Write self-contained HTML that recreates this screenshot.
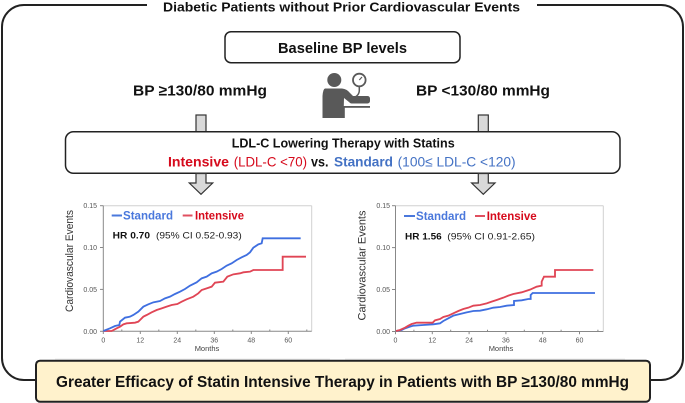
<!DOCTYPE html>
<html><head><meta charset="utf-8"><style>
html,body{margin:0;padding:0;background:#fff;}
svg{display:block;}
text{font-family:"Liberation Sans",Arial,sans-serif;}
</style></head><body>
<svg width="685" height="403" viewBox="0 0 685 403" xmlns="http://www.w3.org/2000/svg">
<rect width="685" height="403" fill="#fff"/>
<!-- outer border -->
<path d="M147 5 H24 A22 22 0 0 0 2 27 V358 A22 22 0 0 0 24 380 H36" fill="none" stroke="#222" stroke-width="2"/>
<path d="M537 5 H661 A22 22 0 0 1 683 27 V358 A22 22 0 0 1 661 380 H650" fill="none" stroke="#222" stroke-width="2"/>
<text x="163" y="11.5" font-size="13" font-weight="bold" fill="#111" textLength="357" lengthAdjust="spacingAndGlyphs">Diabetic Patients without Prior Cardiovascular Events</text>

<!-- baseline box -->
<rect x="225" y="31.7" width="235" height="31" rx="6" fill="#fff" stroke="#222" stroke-width="1.5"/>
<text x="278" y="53" font-size="15" font-weight="bold" fill="#111" textLength="129" lengthAdjust="spacingAndGlyphs">Baseline BP levels</text>

<text x="133" y="95.5" font-size="15" font-weight="bold" fill="#111" textLength="134" lengthAdjust="spacingAndGlyphs">BP ≥130/80 mmHg</text>
<text x="416" y="95.5" font-size="15" font-weight="bold" fill="#111" textLength="134" lengthAdjust="spacingAndGlyphs">BP &lt;130/80 mmHg</text>

<!-- icon -->
<g fill="#595959">
<circle cx="334.3" cy="80" r="7"/>
<path d="M325 88.5 L342 88.5 Q347 89 350 93 L354 97 L349 102 L344 98 L343.5 118 L322.5 118 L322.5 96 Q323 89 325 88.5 Z"/>
<rect x="349" y="96" width="21" height="7.5" rx="2.5"/>
<rect x="343" y="106" width="27" height="1.8"/>
<rect x="343" y="106" width="1.8" height="12"/>
</g>
<circle cx="359.3" cy="80" r="6.3" fill="#fff" stroke="#595959" stroke-width="1.8"/>
<line x1="359.3" y1="80" x2="362" y2="77" stroke="#595959" stroke-width="1.2"/>
<path d="M359.3 86.3 V91 Q359 95 355 97" fill="none" stroke="#595959" stroke-width="1.5"/>

<!-- small arrows -->
<rect x="196" y="115" width="10" height="20" fill="#d9d9d9" stroke="#333" stroke-width="1.2"/>
<rect x="478.3" y="115" width="10" height="20" fill="#d9d9d9" stroke="#333" stroke-width="1.2"/>

<!-- LDL box -->
<rect x="65.5" y="131.7" width="554.5" height="41.6" rx="8" fill="#fff" stroke="#222" stroke-width="1.5"/>
<text x="231.7" y="147.5" font-size="13" font-weight="bold" fill="#111" textLength="223" lengthAdjust="spacingAndGlyphs">LDL-C Lowering Therapy with Statins</text>
<g font-size="14">
<text x="168" y="166.5" font-weight="bold" fill="#d60a1c" textLength="61" lengthAdjust="spacingAndGlyphs">Intensive</text>
<text x="233.7" y="166.5" fill="#d60a1c" textLength="73.3" lengthAdjust="spacingAndGlyphs">(LDL-C &lt;70)</text>
<text x="311" y="166.5" font-weight="bold" fill="#111" textLength="17.5" lengthAdjust="spacingAndGlyphs">vs.</text>
<text x="334" y="166.5" font-weight="bold" fill="#4472c4" textLength="59" lengthAdjust="spacingAndGlyphs">Standard</text>
<text x="397.6" y="166.5" fill="#4472c4" textLength="118" lengthAdjust="spacingAndGlyphs">(100≤ LDL-C &lt;120)</text>
</g>

<!-- big arrows -->
<polygon points="196,173.5 206,173.5 206,183 212.7,183 201,194.3 189.3,183 196,183" fill="#d9d9d9" stroke="#333" stroke-width="1.2"/>
<polygon points="478.3,173.5 488.3,173.5 488.3,183 495,183 483.3,194.3 471.6,183 478.3,183" fill="#d9d9d9" stroke="#333" stroke-width="1.2"/>

<!-- faint chart image bottoms -->
<line x1="55" y1="359" x2="330" y2="359" stroke="#ececec" stroke-width="1"/>
<line x1="345" y1="359" x2="625" y2="359" stroke="#ececec" stroke-width="1"/>

<!-- LEFT CHART -->
<g>
<line x1="103.3" y1="205.7" x2="311.7" y2="205.7" stroke="#d0d0d0" stroke-width="1"/>
<line x1="311.7" y1="205.7" x2="311.7" y2="331.3" stroke="#d0d0d0" stroke-width="1"/>
<line x1="103.3" y1="205.7" x2="103.3" y2="331.3" stroke="#888" stroke-width="1"/>
<line x1="103.3" y1="331.3" x2="311.7" y2="331.3" stroke="#888" stroke-width="1"/>
<g stroke="#888" stroke-width="1">
<line x1="100" y1="205.7" x2="103.3" y2="205.7"/><line x1="100" y1="247.5" x2="103.3" y2="247.5"/>
<line x1="100" y1="289.4" x2="103.3" y2="289.4"/><line x1="100" y1="331.3" x2="103.3" y2="331.3"/>
<line x1="103.3" y1="331.3" x2="103.3" y2="334"/><line x1="140.3" y1="331.3" x2="140.3" y2="334"/>
<line x1="177.3" y1="331.3" x2="177.3" y2="334"/><line x1="214.3" y1="331.3" x2="214.3" y2="334"/>
<line x1="251.3" y1="331.3" x2="251.3" y2="334"/><line x1="288.3" y1="331.3" x2="288.3" y2="334"/>
<line x1="121.8" y1="331.3" x2="121.8" y2="329.5"/><line x1="158.8" y1="331.3" x2="158.8" y2="329.5"/>
<line x1="195.8" y1="331.3" x2="195.8" y2="329.5"/><line x1="232.8" y1="331.3" x2="232.8" y2="329.5"/>
<line x1="269.8" y1="331.3" x2="269.8" y2="329.5"/><line x1="306.8" y1="331.3" x2="306.8" y2="329.5"/>
</g>
<g font-size="7" fill="#555" text-anchor="end">
<text x="97" y="208">0.15</text><text x="97" y="250">0.10</text><text x="97" y="292">0.05</text><text x="97" y="334">0.00</text>
</g>
<g font-size="7" fill="#555" text-anchor="middle">
<text x="103.3" y="342.5">0</text><text x="140.3" y="342.5">12</text><text x="177.3" y="342.5">24</text>
<text x="214.3" y="342.5">36</text><text x="251.3" y="342.5">48</text><text x="288.3" y="342.5">60</text>
</g>
<text x="207" y="351" font-size="7.5" fill="#444" text-anchor="middle">Months</text>
<text transform="translate(73,261) rotate(-90)" font-size="11" fill="#333" text-anchor="middle" textLength="102" lengthAdjust="spacingAndGlyphs">Cardiovascular Events</text>
<line x1="111.7" y1="215.5" x2="122" y2="215.5" stroke="#4a78dc" stroke-width="2"/>
<text x="123" y="219.5" font-size="12" font-weight="bold" fill="#4a78dc" textLength="50" lengthAdjust="spacingAndGlyphs">Standard</text>
<line x1="182.7" y1="215.5" x2="192.5" y2="215.5" stroke="#e05060" stroke-width="2"/>
<text x="195" y="219.5" font-size="12" font-weight="bold" fill="#d60a1c" textLength="49" lengthAdjust="spacingAndGlyphs">Intensive</text>
<text x="112.7" y="238.5" font-size="9.5" font-weight="bold" fill="#111" textLength="37.3" lengthAdjust="spacingAndGlyphs">HR 0.70</text>
<text x="156" y="238.5" font-size="9.5" fill="#222" textLength="85.7" lengthAdjust="spacingAndGlyphs">(95% CI 0.52-0.93)</text>
<g transform="translate(90,195) scale(0.33333)" fill="none" stroke-width="5.5" stroke-linejoin="miter">
<path stroke="#e04555" d="M40 408 L65 408 L80 400 L90 395 L100 388 L110 385 L135 383 L145 380 L150 375 L160 365 L170 360 L185 352 L200 345 L215 340 L230 335 L245 330 L262 327 L275 320 L290 313 L310 305 L325 295 L335 285 L350 280 L365 275 L375 263 L400 260 L412 245 L430 238 L450 235 L460 232 L480 230 L490 225 H578 V185 H648"/>
<path stroke="#3f6fe0" d="M40 408 L60 400 L75 393 L88 390 L90 380 L105 368 L120 365 L130 360 L145 350 L160 335 L175 328 L190 322 L210 318 L225 310 L240 305 L255 297 L270 290 L285 282 L300 272 L320 262 L335 250 L350 245 L365 235 L380 230 L395 222 L410 212 L425 205 L440 195 L455 187 L470 180 L480 172 L490 158 L505 148 L515 145 L518 130 H632"/>
</g>
</g>

<!-- RIGHT CHART -->
<g>
<line x1="395.5" y1="205.7" x2="603.3" y2="205.7" stroke="#d0d0d0" stroke-width="1"/>
<line x1="603.3" y1="205.7" x2="603.3" y2="331.5" stroke="#d0d0d0" stroke-width="1"/>
<line x1="395.5" y1="205.7" x2="395.5" y2="331.5" stroke="#888" stroke-width="1"/>
<line x1="395.5" y1="331.5" x2="603.3" y2="331.5" stroke="#888" stroke-width="1"/>
<g stroke="#888" stroke-width="1">
<line x1="392" y1="205.7" x2="395.5" y2="205.7"/><line x1="392" y1="247.6" x2="395.5" y2="247.6"/>
<line x1="392" y1="289.5" x2="395.5" y2="289.5"/><line x1="392" y1="331.5" x2="395.5" y2="331.5"/>
<line x1="395.5" y1="331.5" x2="395.5" y2="334.2"/><line x1="432.3" y1="331.5" x2="432.3" y2="334.2"/>
<line x1="469.1" y1="331.5" x2="469.1" y2="334.2"/><line x1="505.9" y1="331.5" x2="505.9" y2="334.2"/>
<line x1="542.7" y1="331.5" x2="542.7" y2="334.2"/><line x1="579.5" y1="331.5" x2="579.5" y2="334.2"/>
<line x1="413.9" y1="331.5" x2="413.9" y2="329.7"/><line x1="450.7" y1="331.5" x2="450.7" y2="329.7"/>
<line x1="487.5" y1="331.5" x2="487.5" y2="329.7"/><line x1="524.3" y1="331.5" x2="524.3" y2="329.7"/>
<line x1="561.1" y1="331.5" x2="561.1" y2="329.7"/><line x1="597.9" y1="331.5" x2="597.9" y2="329.7"/>
</g>
<g font-size="7" fill="#555" text-anchor="end">
<text x="390" y="208">0.15</text><text x="390" y="250">0.10</text><text x="390" y="292">0.05</text><text x="390" y="334">0.00</text>
</g>
<g font-size="7" fill="#555" text-anchor="middle">
<text x="395.5" y="342.5">0</text><text x="432.3" y="342.5">12</text><text x="469.1" y="342.5">24</text>
<text x="505.9" y="342.5">36</text><text x="542.7" y="342.5">48</text><text x="579.5" y="342.5">60</text>
</g>
<text x="501" y="351" font-size="7.5" fill="#444" text-anchor="middle">Months</text>
<text transform="translate(365.5,265.5) rotate(-90)" font-size="11" fill="#333" text-anchor="middle" textLength="110" lengthAdjust="spacingAndGlyphs">Cardiovascular Events</text>
<line x1="404" y1="216" x2="415" y2="216" stroke="#4a78dc" stroke-width="2"/>
<text x="416" y="220" font-size="12" font-weight="bold" fill="#4a78dc" textLength="50" lengthAdjust="spacingAndGlyphs">Standard</text>
<line x1="475" y1="216" x2="485" y2="216" stroke="#e05060" stroke-width="2"/>
<text x="486.7" y="220" font-size="12" font-weight="bold" fill="#d60a1c" textLength="50" lengthAdjust="spacingAndGlyphs">Intensive</text>
<text x="405" y="239.3" font-size="9.5" font-weight="bold" fill="#111" textLength="36.7" lengthAdjust="spacingAndGlyphs">HR 1.56</text>
<text x="447.3" y="239.3" font-size="9.5" fill="#222" textLength="87.7" lengthAdjust="spacingAndGlyphs">(95% CI 0.91-2.65)</text>
<g transform="translate(340,195) scale(0.33333)" fill="none" stroke-width="5.5">
<path stroke="#3f6fe0" d="M168 408 L185 405 L195 400 L210 395 L220 392 L250 390 L280 388 L300 385 L310 378 L325 370 L340 362 L360 357 L380 352 L400 348 L420 347 L440 343 L460 338 L480 336 L500 332 L522 330 V318 L545 316 L565 312 L572 312 V300 L578 294 H765"/>
<path stroke="#e04555" d="M168 408 L180 405 L195 398 L205 392 L215 387 L230 383 L278 383 L285 376 L300 372 L310 366 L325 362 L340 355 L355 348 L370 342 L385 338 L400 332 L420 330 L440 325 L455 320 L470 315 L490 308 L505 302 L520 297 L545 292 L570 284 L590 275 L605 272 V260 L612 245 H645 V225 H760"/>
</g>
</g>

<!-- bottom box -->
<rect x="36" y="360.7" width="614" height="41" rx="4" fill="#fff2cc" stroke="#222" stroke-width="2"/>
<text x="56" y="387" font-size="16" font-weight="bold" fill="#111" textLength="573" lengthAdjust="spacingAndGlyphs">Greater Efficacy of Statin Intensive Therapy in Patients with BP ≥130/80 mmHg</text>
</svg>
</body></html>
